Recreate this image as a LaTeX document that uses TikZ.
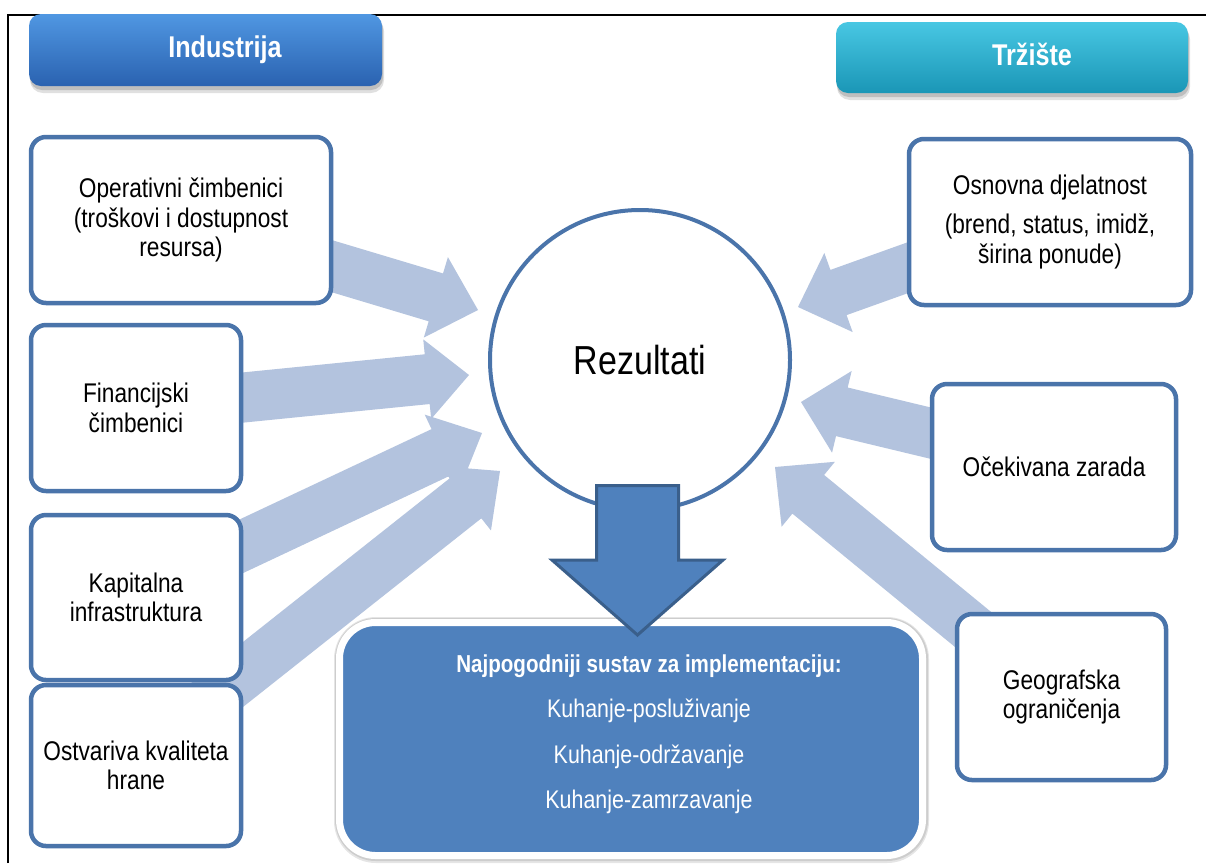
\documentclass[tikz,border=0pt]{standalone}
\usepackage{fontspec}
\setmainfont{Liberation Sans}[FakeStretch=0.84]
\usetikzlibrary{calc}
\definecolor{boxblue}{HTML}{4A74AA}
\definecolor{arrowblue}{HTML}{B3C3DE}
\definecolor{resblue}{HTML}{4F81BD}
\definecolor{resedge}{HTML}{3A5F8B}
\definecolor{indtop}{HTML}{5097E2}
\definecolor{indbot}{HTML}{2A62B0}
\definecolor{trztop}{HTML}{48C7E3}
\definecolor{trzbot}{HTML}{1A96B6}
\newcommand{\boxfont}{\fontsize{27}{29.5}\selectfont}
\newcommand{\blockarrow}[6]{%
  \coordinate (#2-n) at ($(#3)!#6!(#2)$);
  \path[#1] ($(#2)!#4!90:(#3)$) -- ($(#2-n)!#4!90:(#3)$) -- ($(#2-n)!#5!90:(#3)$) -- (#3)
    -- ($(#2-n)!#5!-90:(#3)$) -- ($(#2-n)!#4!-90:(#3)$) -- ($(#2)!#4!-90:(#3)$) -- cycle;}
\tikzset{
  lightarrow/.style={fill=arrowblue},
  factor/.style={draw=boxblue, line width=4.5pt, fill=white, rounded corners=15pt,
    align=center, font=\boxfont, inner sep=0pt, text=black},
  header/.style={rounded corners=12pt, inner sep=0pt},
  headtext/.style={font=\bfseries\fontsize{30}{34}\selectfont, text=white, anchor=base},
  restext/.style={font=\fontsize{25.5}{30}\selectfont, text=white, anchor=base},
}
\begin{document}
\begin{tikzpicture}[x=1pt,y=-1pt]
\useasboundingbox (0,0) rectangle (1206,863);
\fill[white] (0,0) rectangle (1206,863);

% frame
\draw[line width=2pt, black] (7.5,863) -- (7.5,14.5) -- (1206,14.5);

% arrow coordinates
\coordinate (a1s) at (280,250.6);   \coordinate (a1e) at (478,310);
\coordinate (a2s) at (200,401.8);   \coordinate (a2e) at (469,375);
\coordinate (a3s) at (200,565.7);   \coordinate (a3e) at (482,433);
\coordinate (a4s) at (200,708.5);   \coordinate (a4e) at (500,471);
\coordinate (b1s) at (960,249);     \coordinate (b1e) at (798,307);
\coordinate (b2s) at (980,445);     \coordinate (b2e) at (801,402);
\coordinate (b3s) at (1040.4,684.7); \coordinate (b3e) at (775,467);

\blockarrow{lightarrow}{a1s}{a1e}{25pt}{42pt}{44pt}
\blockarrow{lightarrow}{a2s}{a2e}{25pt}{40pt}{42pt}
\blockarrow{lightarrow}{a3s}{a3e}{25pt}{41pt}{44pt}
\blockarrow{lightarrow}{a4s}{a4e}{25.5pt}{41pt}{44pt}
\blockarrow{lightarrow}{b1s}{b1e}{24pt}{42pt}{43pt}
\blockarrow{lightarrow}{b2s}{b2e}{25pt}{42pt}{42pt}
\blockarrow{lightarrow}{b3s}{b3e}{25pt}{42pt}{43pt}

% central circle
\node[circle, draw=boxblue, line width=4pt, fill=white, minimum size=300pt, inner sep=0pt,
  font=\fontsize{40.5}{44}\selectfont] (rez) at (640,360) {Rezultati};

% result box
\path[fill=black, opacity=0.10, rounded corners=42pt] (334,617) rectangle (929,863);
\path[fill=black, opacity=0.10, rounded corners=41pt] (335,618) rectangle (928,861);
\node[draw=white, line width=7pt, fill=resblue, rounded corners=36pt,
  minimum width=583pt, minimum height=233pt, inner sep=0pt] (res) at (631,739) {};
\node[restext, font=\bfseries\fontsize{24.5}{30}\selectfont] (res1) at (649,672) {Najpogodniji sustav za implementaciju:};
\node[restext] (res2) at (649,717) {Kuhanje-posluživanje};
\node[restext] (res3) at (649,763) {Kuhanje-održavanje};
\node[restext] (res4) at (649,808) {Kuhanje-zamrzavanje};

% down arrow
\coordinate (ds) at (637.5,485.5);
\coordinate (de) at (637.5,635);
\blockarrow{fill=resblue, draw=resedge, line width=3pt}{ds}{de}{41pt}{85.5pt}{75pt}

% factor boxes
\node[factor, minimum width=300pt, minimum height=166pt] (op) at (181,220)
  {Operativni čimbenici\\(troškovi i dostupnost\\resursa)};
\node[factor, minimum width=210pt, minimum height=166pt] (fin) at (136,408)
  {Financijski\\čimbenici};
\node[factor, minimum width=210pt, minimum height=165pt] (kap) at (136,597.5)
  {Kapitalna\\infrastruktura};
\node[factor, minimum width=210pt, minimum height=161pt] (ost) at (136,765.5)
  {Ostvariva kvaliteta\\hrane};
\node[factor, minimum width=282pt, minimum height=166pt, font=\fontsize{27}{30.5}\selectfont] (osn) at (1050,222)
  {Osnovna djelatnost\\[8.5pt](brend, status, imidž,\\širina ponude)};
\node[factor, minimum width=244pt, minimum height=166pt] (oce) at (1054,467)
  {Očekivana zarada};
\node[factor, minimum width=209pt, minimum height=166pt] (geo) at (1061.5,697)
  {Geografska\\ograničenja};

% headers
\path[fill=black, opacity=0.12, rounded corners=13pt] (30,18) rectangle (384,93);
\path[fill=black, opacity=0.15, rounded corners=12pt] (30,17) rectangle (383,90);
\node[header, top color=indtop, bottom color=indbot, minimum width=353pt, minimum height=72pt] (ind) at (205.5,50) {};
\node[headtext] (indt) at (225,57) {Industrija};

\path[fill=black, opacity=0.12, rounded corners=13pt] (837,26) rectangle (1190,100);
\path[fill=black, opacity=0.15, rounded corners=12pt] (837,25) rectangle (1189,97);
\node[header, top color=trztop, bottom color=trzbot, minimum width=352pt, minimum height=71pt] (trz) at (1012,57.5) {};
\node[headtext] (trzt) at (1032,65) {Tržište};
\end{tikzpicture}
\end{document}
